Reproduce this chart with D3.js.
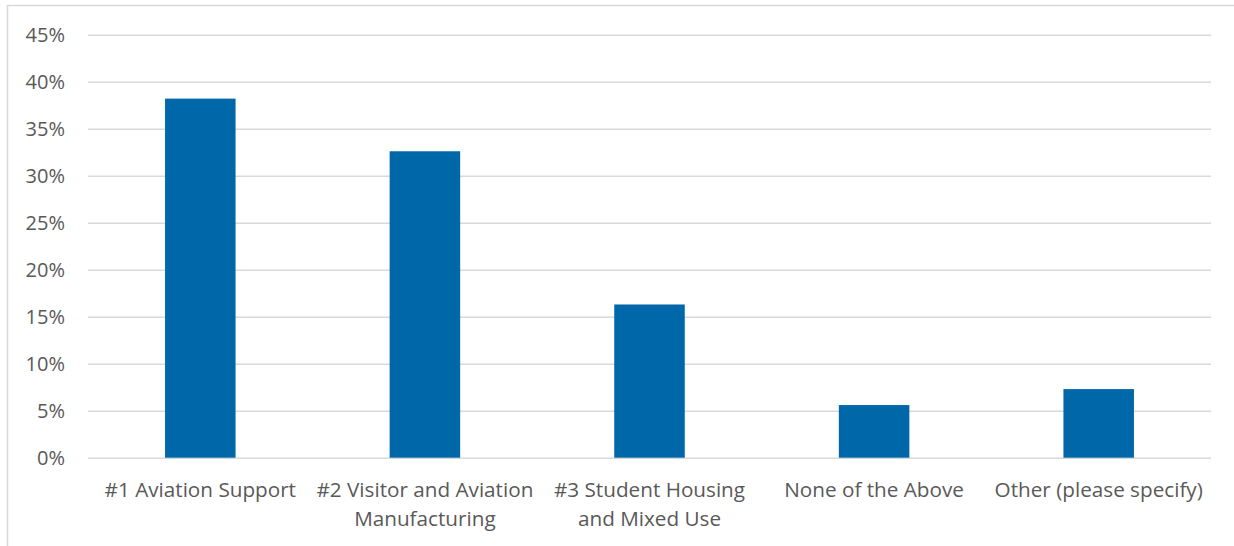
<!DOCTYPE html>
<html><head><meta charset="utf-8">
<script src="https://cdn.jsdelivr.net/npm/d3@7"></script>
<style>html,body{margin:0;padding:0;background:#fff;}svg{display:block;}</style>
</head><body>
<svg id="chart" width="1234" height="546"></svg>
<script>
const categories = [["#1 Aviation Support"], ["#2 Visitor and Aviation", "Manufacturing"], ["#3 Student Housing", "and Mixed Use"], ["None of the Above"], ["Other (please specify)"]];
const values = [0.382, 0.326, 0.163, 0.056, 0.073];
const ticks = [0, 0.05, 0.10, 0.15, 0.20, 0.25, 0.30, 0.35, 0.40, 0.45];

const svg = d3.select("#chart");
const font = "'Open Sans', sans-serif";
const textColor = "#595959";

svg.append("rect").attr("x", 7.5).attr("y", 5.5).attr("width", 1240).attr("height", 560)
  .attr("fill", "#fff").attr("stroke", "#d9d9d9").attr("stroke-width", 1.5);

const m = {left: 88, right: 1211, top: 34.7, bottom: 457.7};
const x = d3.scaleBand().domain(d3.range(categories.length)).range([m.left, m.right])
  .paddingInner(0.686).paddingOuter(0.343);
const y = d3.scaleLinear().domain([0, 0.45]).range([m.bottom, m.top]);

const yAxis = d3.axisLeft(y).tickValues(ticks).tickFormat(d3.format(".0%")).tickSize(-(m.right - m.left)).tickPadding(23);
const gy = svg.append("g").attr("transform", `translate(${m.left},0)`).call(yAxis);
gy.select(".domain").remove();
gy.selectAll(".tick line").attr("stroke", "#d9d9d9").attr("stroke-width", 1.5);
gy.selectAll(".tick text").attr("fill", textColor).style("font-family", font).style("font-size", "20px");

svg.append("g").selectAll("rect").data(values).join("rect")
  .attr("x", (d, i) => x(i)).attr("width", x.bandwidth())
  .attr("y", d => y(d)).attr("height", d => y(0) - y(d))
  .attr("fill", "#0068a8");

const gx = svg.append("g");
categories.forEach((lines, i) => {
  const t = gx.append("text").attr("x", x(i) + x.bandwidth() / 2).attr("y", 497)
    .attr("text-anchor", "middle").attr("fill", textColor)
    .style("font-family", font).style("font-size", "20.7px");
  lines.forEach((l, j) => t.append("tspan").attr("x", x(i) + x.bandwidth() / 2).attr("dy", j === 0 ? 0 : 28.5).text(l));
});
</script>
</body></html>
